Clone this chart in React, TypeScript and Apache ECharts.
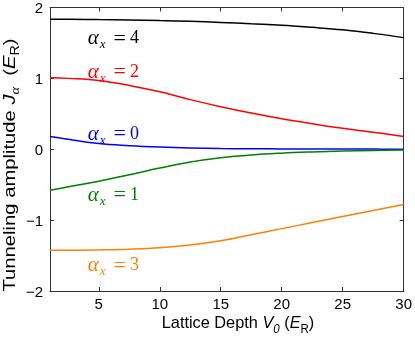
import React, { useEffect, useRef } from "react";
import * as echarts from "echarts";

// Lattice depth V0 (E_R)
const depth = [1, 2.5, 5, 7.5, 10, 12.5, 15, 17.5, 20, 22.5, 25, 27.5, 30];
// Tunneling amplitudes J_alpha (E_R) per band alpha_x
const alpha4 = [1.835, 1.835, 1.83, 1.825, 1.815, 1.805, 1.79, 1.77, 1.75, 1.72, 1.685, 1.635, 1.575];
const alpha2 = [1.01, 1.0, 0.97, 0.9, 0.81, 0.7, 0.6, 0.51, 0.43, 0.36, 0.295, 0.24, 0.18];
const alpha0 = [0.18, 0.14, 0.08, 0.05, 0.03, 0.017, 0.01, 0.007, 0.005, 0.004, 0.003, 0.002, 0.001];
const alpha1 = [-0.58, -0.53, -0.45, -0.36, -0.265, -0.18, -0.12, -0.08, -0.055, -0.038, -0.025, -0.016, -0.01];
const alpha3 = [-1.425, -1.425, -1.42, -1.41, -1.39, -1.35, -1.29, -1.205, -1.12, -1.035, -0.95, -0.865, -0.78];

const seriesNames = ["4", "2", "0", "1", "3"];
const seriesColors = ["#000000", "#ff0000", "#0000ff", "#008000", "#ff8000"];
const seriesValues = [alpha4, alpha2, alpha0, alpha1, alpha3];

const xTicks = [5, 10, 15, 20, 25, 30];

// label anchors (data coords: left edge, vertical middle)
const labelX = [4.1, 4.1, 4.1, 4.1, 4.1];
const labelY = [1.58, 1.11, 0.23, -0.63, -1.62];

const SANS = "'Liberation Sans', Arial, sans-serif";
const SERIF = "'Liberation Serif', 'Times New Roman', serif";

export default function App() {
  const ref = useRef<HTMLDivElement>(null);
  useEffect(() => {
    const chart = echarts.init(ref.current!, null, { renderer: "svg" });
    const axisLineStyle = { color: "#333", width: 1 };
    const option: any = {
      animation: false,
      textStyle: { fontFamily: SANS },
      grid: { left: 50, right: 7, top: 3, bottom: 46 },
      xAxis: [
        {
          type: "value",
          min: 1,
          max: 30,
          position: "bottom",
          axisLine: { show: true, onZero: false, lineStyle: axisLineStyle },
          axisTick: { show: true, inside: true, length: 4, customValues: xTicks, lineStyle: { color: "#333" } },
          axisLabel: { show: true, customValues: xTicks, fontSize: 15, color: "#000", margin: 5, fontFamily: SANS },
          splitLine: { show: false },
        },
        {
          type: "value",
          min: 1,
          max: 30,
          position: "top",
          axisLine: { show: true, onZero: false, lineStyle: axisLineStyle },
          axisTick: { show: true, inside: true, length: 4, customValues: xTicks, lineStyle: { color: "#333" } },
          axisLabel: { show: false },
          splitLine: { show: false },
        },
      ],
      yAxis: [
        {
          type: "value",
          min: -2,
          max: 2,
          interval: 1,
          position: "left",
          axisLine: { show: true, onZero: false, lineStyle: axisLineStyle },
          axisTick: { show: true, inside: true, length: 4, lineStyle: { color: "#333" } },
          axisLabel: {
            fontSize: 15,
            color: "#000",
            margin: 7,
            fontFamily: SANS,
            formatter: (v: number) => (v < 0 ? "\u2212" + Math.abs(v) : String(v)),
          },
          splitLine: { show: false },
        },
        {
          type: "value",
          min: -2,
          max: 2,
          interval: 1,
          position: "right",
          axisLine: { show: true, onZero: false, lineStyle: axisLineStyle },
          axisTick: { show: true, inside: true, length: 4, lineStyle: { color: "#333" } },
          axisLabel: { show: false },
          splitLine: { show: false },
        },
      ],
      series: seriesValues.map((vals, i) => ({
        name: "alpha_x=" + seriesNames[i],
        type: "line",
        xAxisIndex: 0,
        yAxisIndex: 0,
        data: depth.map((d, j) => [d, vals[j]]),
        showSymbol: false,
        smooth: 0.4,
        lineStyle: { color: seriesColors[i], width: 1.5 },
        itemStyle: { color: seriesColors[i] },
      })),
    };
    chart.setOption(option);

    const curveLabels = seriesNames.map((n, i) => {
      const p = chart.convertToPixel({ xAxisIndex: 0, yAxisIndex: 0 }, [labelX[i], labelY[i]]) as number[];
      const c = seriesColors[i];
      return {
        type: "text",
        x: p[0],
        y: p[1],
        silent: true,
        style: {
          text: "{a|\u03b1}{s|x}{q|=}{n|" + n + "}",
          fill: c,
          align: "left",
          verticalAlign: "middle",
          fontFamily: SERIF,
          fontSize: 18,
          lineHeight: 26,
          rich: {
            a: { fontFamily: SERIF, fontStyle: "italic", fontSize: 21, fill: c, lineHeight: 26 },
            s: { fontFamily: SERIF, fontStyle: "italic", fontSize: 13, fill: c, verticalAlign: "bottom", lineHeight: 26, padding: [0, 0, 0, 1] },
            q: { fontFamily: SERIF, fontSize: 22, fill: c, lineHeight: 26, padding: [0, 4, 0, 8] },
            n: { fontFamily: SERIF, fontSize: 18, fill: c, lineHeight: 26 },
          },
        },
      };
    });

    const nameRich = {
      i: { fontFamily: SANS, fontStyle: "italic", fontSize: 17, fill: "#000", lineHeight: 24 },
      s: { fontFamily: SANS, fontStyle: "italic", fontSize: 12, fill: "#000", verticalAlign: "bottom", lineHeight: 24 },
      g: { fontFamily: SERIF, fontStyle: "italic", fontSize: 12, fill: "#000", verticalAlign: "bottom", lineHeight: 24 },
      r: { fontFamily: SANS, fontSize: 12, fill: "#000", verticalAlign: "bottom", lineHeight: 24 },
    };

    chart.setOption({
      graphic: [
        {
          type: "text",
          x: 9,
          y: 165,
          rotation: Math.PI / 2,
          scaleX: 1.19,
          silent: true,
          style: {
            text: "Tunneling amplitude {i|J}{g|\u03b1}  ({i|E}{r|R})",
            fontFamily: SANS,
            fontSize: 17,
            lineHeight: 24,
            fill: "#000",
            align: "center",
            verticalAlign: "middle",
            rich: nameRich,
          },
        },
        {
          type: "text",
          x: 238,
          y: 322,
          scaleX: 0.96,
          silent: true,
          style: {
            text: "Lattice Depth {i|V}{s|0} ({i|E}{r|R})",
            fontFamily: SANS,
            fontSize: 17,
            lineHeight: 24,
            fill: "#000",
            align: "center",
            verticalAlign: "middle",
            rich: nameRich,
          },
        },
        ...curveLabels,
      ],
    });
    return () => chart.dispose();
  }, []);
  return <div ref={ref} style={{ position: "fixed", left: 0, top: 0, width: 415, height: 337 }} />;
}
